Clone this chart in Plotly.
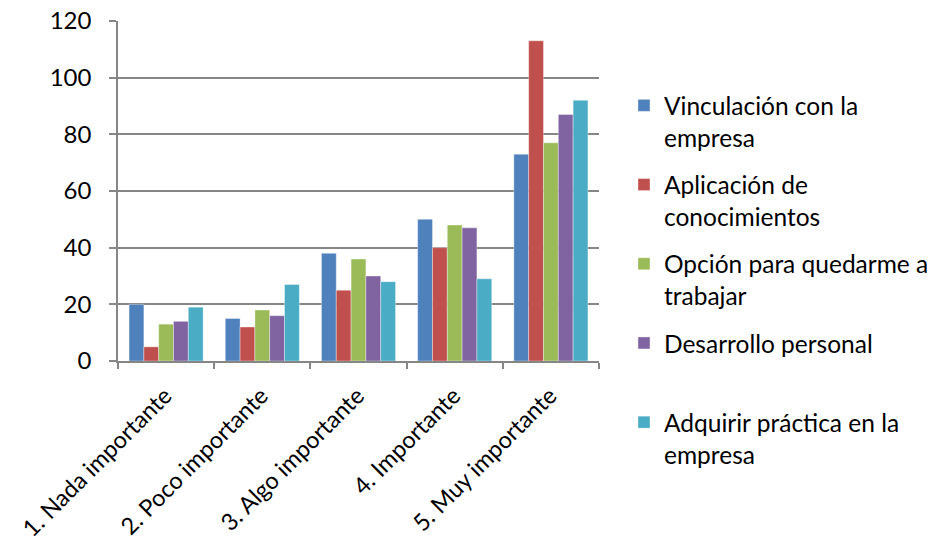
import plotly.graph_objects as go

categories = ["1. Nada importante", "2. Poco importante", "3. Algo importante", "4. Importante", "5. Muy importante"]
series_names = ["Vinculación con la<br>empresa", "Aplicación de<br>conocimientos", "Opción para quedarme a<br>trabajar", "Desarrollo personal<br> ", "Adquirir práctica en la<br>empresa"]
vinculacion = [20, 15, 38, 50, 73]
aplicacion = [5, 12, 25, 40, 113]
opcion = [13, 18, 36, 48, 77]
desarrollo = [14, 16, 30, 47, 87]
adquirir = [19, 27, 28, 29, 92]
colors = ["#4F81BD", "#C0504D", "#9BBB59", "#8064A2", "#4BACC6"]
y_ticks = [0, 20, 40, 60, 80, 100, 120]

FONT = "Lato"
fig = go.Figure()
for i, (name, vals) in enumerate(zip(series_names, [vinculacion, aplicacion, opcion, desarrollo, adquirir])):
    fig.add_trace(go.Bar(x=categories, y=vals, name=name, marker_color=colors[i],
                         marker_line=dict(width=0.6, color="rgba(255,255,255,0.6)"),
                         legendgroup=f"g{i}"))

fig.update_layout(
    width=935, height=543,
    margin=dict(l=110, r=344, t=13, b=190, autoexpand=False),
    paper_bgcolor="white", plot_bgcolor="white",
    barmode="group", bargap=0.23, bargroupgap=0,
    font=dict(family=FONT, size=22, color="#000000"),
    showlegend=True,
    legend=dict(xref="container", yref="container", x=0.6588, xanchor="left", y=0.862, yanchor="top",
                font=dict(family=FONT, size=24.5, color="#000000"),
                valign="top", tracegroupgap=12.5, itemwidth=30, maxheight=600,
                bgcolor="rgba(0,0,0,0)"),
)
fig.update_xaxes(showline=True, linecolor="#868686", linewidth=1.5, automargin=False,
                 ticks="outside", tickson="boundaries", ticklen=6, tickcolor="#868686", tickwidth=1.5,
                 tickangle=-45, tickfont=dict(family=FONT, size=23.5), ticklabeloverflow="allow",
                 ticklabelshift=-1, ticklabelstandoff=10, showgrid=False)
fig.update_yaxes(range=[0, 120], tickvals=y_ticks, showline=True, linecolor="#868686", linewidth=1.5,
                 ticks="outside", ticklen=7, tickcolor="#868686", tickwidth=1.5, automargin=False,
                 showgrid=True, gridcolor="#868686", gridwidth=1.5, ticklabeloverflow="allow",
                 tickfont=dict(family=FONT, size=24), ticklabelstandoff=13, zeroline=False)

fig.write_html("out.html")
